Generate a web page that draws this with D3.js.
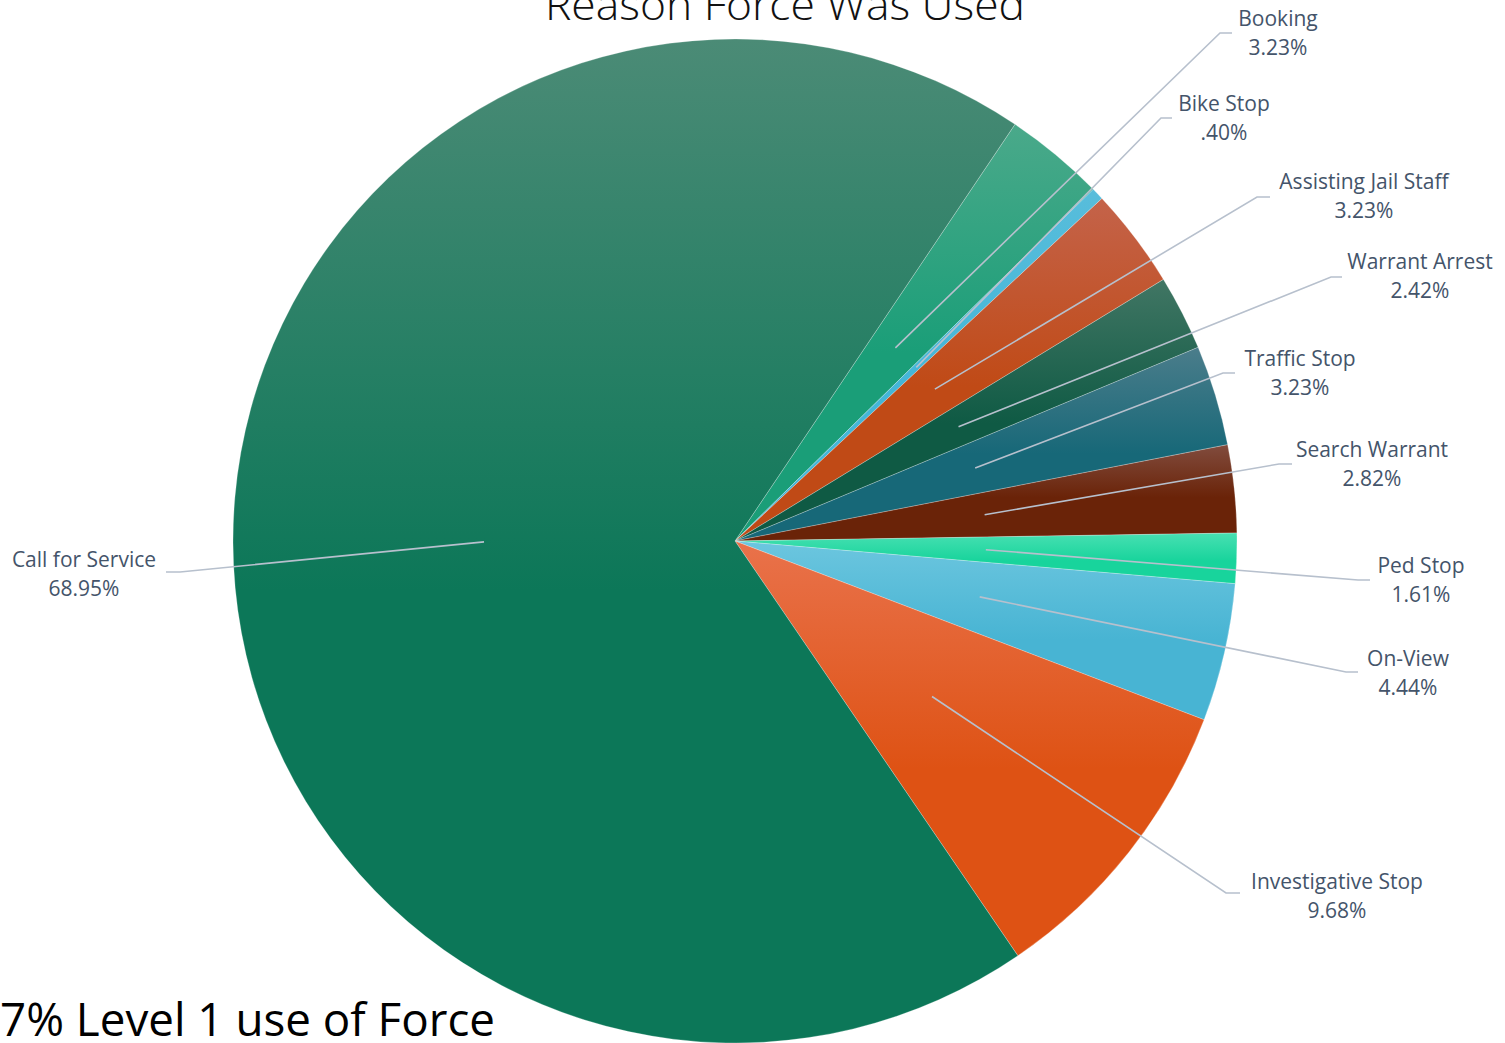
<!DOCTYPE html>
<html>
<head>
<meta charset="utf-8">
<script src="https://cdn.jsdelivr.net/npm/d3@7"></script>
<style>
  body { margin: 0; background: #fff; overflow: hidden; }
  svg { display: block; }
</style>
</head>
<body>
<script>
/* ---------------------------- */
/* DATA                         */
/* ---------------------------- */

// Slices in clockwise order, starting at the Booking slice
const categories = ["Booking", "Bike Stop", "Assisting Jail Staff", "Warrant Arrest", "Traffic Stop",
                    "Search Warrant", "Ped Stop", "On-View", "Investigative Stop", "Call for Service"];
const percents = [3.23, 0.40, 3.23, 2.42, 3.23, 2.82, 1.61, 4.44, 9.68, 68.95];
const percentLabels = ["3.23%", ".40%", "3.23%", "2.42%", "3.23%", "2.82%", "1.61%", "4.44%", "9.68%", "68.95%"];

// Base colours (bottom of gradient) and lighter tops
const baseColors = ["#1a9e78", "#44b6d8", "#c04a16", "#0f5a44", "#176878",
                    "#6a2308", "#18d49c", "#48b4d3", "#de5214", "#0c7758"];
const topColors  = ["#4aa98a", "#58bddb", "#c4634a", "#417664", "#4b7d8b",
                    "#814c3e", "#48e0b2", "#6cc6df", "#e9724b", "#4b8b76"];

// Label text centres (x, y of first line) placed as in the original chart
const labelAnchors = [[1278, 19], [1224, 104], [1364, 182], [1420, 262], [1300, 359],
                      [1372, 450], [1421, 566], [1408, 659], [1337, 882], [84, 560]];
// Leader elbow points next to each label
const elbows = [[1220, 33], [1161, 118], [1257, 197], [1331, 277], [1223, 373],
                [1279, 464], [1358, 580], [1346, 672], [1226, 893], [180, 572]];
const elbowEnds = [1232, 1172, 1270, 1342, 1235, 1292, 1370, 1358, 1240, 166];

/* ---------------------------- */
/* CANVAS                       */
/* ---------------------------- */

const W = 1505, H = 1043;
const cx = 735, cy = 541, R = 502;
const startDeg = 33.9;

const svg = d3.select("body").append("svg")
    .attr("width", W)
    .attr("height", H);

const defs = svg.append("defs");
categories.forEach((c, i) => {
  const g = defs.append("linearGradient")
      .attr("id", "grad" + i)
      .attr("x1", 0).attr("y1", 0).attr("x2", 0).attr("y2", 1);
  g.append("stop").attr("offset", "0%").attr("stop-color", topColors[i]);
  g.append("stop").attr("offset", "55%").attr("stop-color", baseColors[i]);
  g.append("stop").attr("offset", "100%").attr("stop-color", baseColors[i]);
});

const a0 = startDeg * Math.PI / 180;
const pie = d3.pie().sort(null).value(d => d).startAngle(a0).endAngle(a0 + 2 * Math.PI);
const arcs = pie(percents);
const arc = d3.arc().innerRadius(0).outerRadius(R);

const g = svg.append("g").attr("transform", `translate(${cx},${cy})`);

g.selectAll("path.slice")
  .data(arcs)
  .enter()
  .append("path")
    .attr("class", "slice")
    .attr("d", arc)
    .attr("fill", (d, i) => `url(#grad${i})`)
    .attr("stroke", "rgba(255,255,255,0.35)")
    .attr("stroke-width", 0.7);

/* ---------------------------- */
/* LEADER LINES + LABELS        */
/* ---------------------------- */

svg.selectAll("polyline.leader")
  .data(arcs)
  .enter()
  .append("polyline")
    .attr("class", "leader")
    .attr("fill", "none")
    .attr("stroke", "#b7c0cd")
    .attr("stroke-width", 1.6)
    .attr("points", (d, i) => {
      const c = arc.centroid(d); // sits at R/2 along the slice's middle angle
      const p0 = [cx + c[0], cy + c[1]];
      const e = elbows[i];
      return [p0, e, [elbowEnds[i], e[1]]].map(p => p.join(",")).join(" ");
    });

const labels = svg.selectAll("text.label")
  .data(categories)
  .enter()
  .append("text")
    .attr("class", "label")
    .attr("text-anchor", "middle")
    .attr("font-family", "'Open Sans', 'Noto Sans', sans-serif")
    .attr("font-size", 21)
    .attr("fill", "#44546a");

labels.append("tspan")
    .attr("x", (d, i) => labelAnchors[i][0])
    .attr("y", (d, i) => labelAnchors[i][1] + 7)
    .text(d => d);
labels.append("tspan")
    .attr("x", (d, i) => labelAnchors[i][0])
    .attr("y", (d, i) => labelAnchors[i][1] + 36)
    .text((d, i) => percentLabels[i]);

/* ---------------------------- */
/* TITLES                       */
/* ---------------------------- */

svg.append("text")
    .attr("x", 785)
    .attr("y", 20)
    .attr("text-anchor", "middle")
    .attr("font-family", "'Open Sans', sans-serif")
    .attr("font-weight", 300)
    .attr("font-size", 42)
    .attr("textLength", 480)
    .attr("lengthAdjust", "spacingAndGlyphs")
    .attr("fill", "#111")
    .text("Reason Force Was Used");

svg.append("text")
    .attr("x", 0)
    .attr("y", 1036)
    .attr("font-family", "'Open Sans', sans-serif")
    .attr("font-size", 46)
    .attr("textLength", 495)
    .attr("lengthAdjust", "spacingAndGlyphs")
    .attr("fill", "#000")
    .text("7% Level 1 use of Force");
</script>
</body>
</html>
